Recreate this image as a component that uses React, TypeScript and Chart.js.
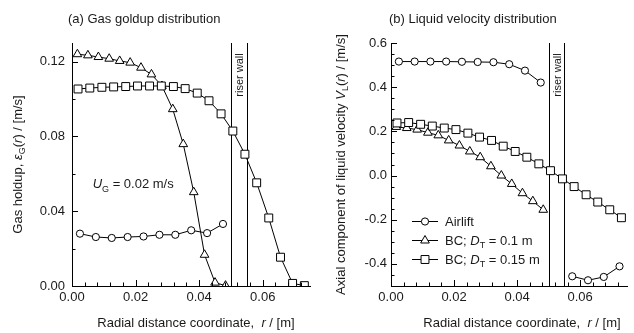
import React, { useEffect, useRef } from 'react';
import { Chart, registerables } from 'chart.js';
import { drawPoint } from 'chart.js/helpers';
Chart.register(...registerables);

const FONT = "'Liberation Sans', Arial, Helvetica, sans-serif";
const TXT = '#1a1a1a';

// ---------- (a) Gas holdup ----------
const holdupAirliftR = [0.0025, 0.0075, 0.0125, 0.0175, 0.0225, 0.0275, 0.0325, 0.0375, 0.0425, 0.0475];
const holdupAirlift = [0.028, 0.0262, 0.0257, 0.0262, 0.0265, 0.0274, 0.0274, 0.0298, 0.0283, 0.0332];
const holdupBC01R = [0.0017, 0.005, 0.0083, 0.0117, 0.015, 0.0183, 0.0217, 0.025, 0.0283, 0.0317, 0.035, 0.0383, 0.0417, 0.045, 0.0483];
const holdupBC01 = [0.124, 0.1234, 0.1225, 0.1216, 0.1204, 0.1195, 0.1168, 0.1132, 0.107, 0.0946, 0.0759, 0.0502, 0.0167, 0.0018, 0.0002];
const holdupBC015R = [0.0019, 0.0056, 0.0094, 0.0131, 0.0169, 0.0206, 0.0244, 0.0281, 0.0319, 0.0356, 0.0394, 0.0431, 0.0469, 0.0506, 0.0544, 0.0581, 0.0619, 0.0656, 0.0694, 0.0731];
const holdupBC015 = [0.1054, 0.1059, 0.1063, 0.1065, 0.1067, 0.107, 0.107, 0.107, 0.1067, 0.1056, 0.1032, 0.0991, 0.0921, 0.0829, 0.0705, 0.0552, 0.0364, 0.0154, 0.0014, 0.0002];

// ---------- (b) Liquid velocity ----------
const velAirliftRiserR = [0.0025, 0.0075, 0.0125, 0.0175, 0.0225, 0.0275, 0.0325, 0.0375, 0.0425, 0.0475];
const velAirliftRiser = [0.516, 0.516, 0.516, 0.516, 0.515, 0.514, 0.513, 0.504, 0.475, 0.421];
const velAirliftAnnulusR = [0.0575, 0.0625, 0.0675, 0.0725];
const velAirliftAnnulus = [-0.456, -0.474, -0.459, -0.411];
const velBC01R = [0.0017, 0.005, 0.0083, 0.0117, 0.015, 0.0183, 0.0217, 0.025, 0.0283, 0.0317, 0.035, 0.0383, 0.0417, 0.045, 0.0483];
const velBC01 = [0.22, 0.215, 0.208, 0.194, 0.182, 0.159, 0.136, 0.109, 0.083, 0.042, 0.0, -0.038, -0.08, -0.116, -0.155];
const velBC015R = [0.0019, 0.0056, 0.0094, 0.0131, 0.0169, 0.0206, 0.0244, 0.0281, 0.0319, 0.0356, 0.0394, 0.0431, 0.0469, 0.0506, 0.0544, 0.0581, 0.0619, 0.0656, 0.0694, 0.0731];
const velBC015 = [0.238, 0.24, 0.232, 0.224, 0.215, 0.208, 0.192, 0.174, 0.159, 0.133, 0.109, 0.083, 0.053, 0.022, -0.015, -0.05, -0.087, -0.12, -0.155, -0.191];

// ---------- axes ----------
const R_MIN = 0;
const R_MAX = 0.075;
const R_TICKS = [0, 0.02, 0.04, 0.06];
const H_MIN = 0;
const H_MAX = 0.13;
const H_TICKS = [0, 0.04, 0.08, 0.12];
const V_MIN = -0.5;
const V_MAX = 0.6;
const V_TICKS = [-0.4, -0.2, 0, 0.2, 0.4, 0.6];
const RISER_WALLS = [0.05, 0.055];

const LEGEND_LABELS = ['Airlift', 'BC; D_T = 0.1 m', 'BC; D_T = 0.15 m'];

type Seg = { t: string; it?: boolean; sub?: boolean };

function drawRich(ctx: CanvasRenderingContext2D, segs: Seg[], x: number, y: number, size: number, align: 'left' | 'center', rotate = false) {
  ctx.save();
  ctx.translate(x, y);
  if (rotate) ctx.rotate(-Math.PI / 2);
  const fontFor = (s: Seg) => `${s.it ? 'italic ' : ''}${s.sub ? Math.round(size * 0.72) : size}px ${FONT}`;
  let total = 0;
  for (const s of segs) {
    ctx.font = fontFor(s);
    total += ctx.measureText(s.t).width;
  }
  let cx = align === 'center' ? -total / 2 : 0;
  ctx.fillStyle = TXT;
  ctx.textBaseline = 'alphabetic';
  ctx.textAlign = 'left';
  const base = size * 0.36;
  for (const s of segs) {
    ctx.font = fontFor(s);
    ctx.fillText(s.t, cx, base + (s.sub ? size * 0.28 : 0));
    cx += ctx.measureText(s.t).width;
  }
  ctx.restore();
}

const isMult = (v: number, step: number) => Math.abs(v / step - Math.round(v / step)) < 1e-6;

type Marker = { style: 'circle' | 'triangle' | 'rect'; radius: number };
const CIRCLE: Marker = { style: 'circle', radius: 3.6 };
const TRI: Marker = { style: 'triangle', radius: 5 };
const SQUARE: Marker = { style: 'rect', radius: 5.6 };

function series(xs: (number | null)[], ys: (number | null)[], m: Marker, order: number) {
  return {
    data: xs.map((x, i) => ({ x, y: ys[i] })),
    borderColor: '#000',
    borderWidth: 1,
    pointStyle: m.style,
    pointRadius: m.radius,
    pointBackgroundColor: '#fff',
    pointBorderColor: '#000',
    pointBorderWidth: 1,
    spanGaps: false,
    tension: 0,
    order,
    fill: false,
  };
}

type PanelSpec = {
  yMin: number;
  yMax: number;
  yTicks: number[];
  yDigits: number;
  yMinorStep: number;
  yLabelPad: number;
  yWidth: number;
  padRight: number;
  datasets: any[];
  title: string;
  titleX: number;
  yTitle: Seg[];
  yTitleX: number;
  xTitleX: number;
  extra?: (ctx: CanvasRenderingContext2D, chart: any) => void;
};

function makeConfig(spec: PanelSpec) {
  const decor = {
    id: 'decor',
    beforeDatasetsDraw(chart: any) {
      const ctx = chart.ctx as CanvasRenderingContext2D;
      const { top, bottom } = chart.chartArea;
      const xs = chart.scales.x;
      ctx.save();
      ctx.strokeStyle = '#000';
      ctx.lineWidth = 1;
      ctx.beginPath();
      for (const w of RISER_WALLS) {
        const px = Math.round(xs.getPixelForValue(w)) + 0.5;
        ctx.moveTo(px, top);
        ctx.lineTo(px, bottom);
      }
      ctx.stroke();
      const p1 = xs.getPixelForValue(RISER_WALLS[0]);
      const p2 = xs.getPixelForValue(RISER_WALLS[1]);
      ctx.translate((p1 + p2) / 2 + 1, top + 32);
      ctx.rotate(-Math.PI / 2);
      ctx.font = `11px ${FONT}`;
      ctx.fillStyle = TXT;
      ctx.textAlign = 'center';
      ctx.textBaseline = 'middle';
      ctx.fillText('riser wall', 0, 0);
      ctx.restore();
    },
    afterDraw(chart: any) {
      const ctx = chart.ctx as CanvasRenderingContext2D;
      const { left, top, bottom } = chart.chartArea;
      const xs = chart.scales.x;
      const ys = chart.scales.y;
      ctx.save();
      ctx.strokeStyle = '#000';
      ctx.lineWidth = 1;
      ctx.beginPath();
      const xStep = 0.004;
      for (let i = 1; i * xStep <= R_MAX + 1e-9; i++) {
        const v = i * xStep;
        const px = Math.round(xs.getPixelForValue(v)) + 0.5;
        const len = isMult(v, 0.02) ? 6 : 3.5;
        ctx.moveTo(px, bottom);
        ctx.lineTo(px, bottom - len);
      }
      const s = spec.yMinorStep;
      for (let i = Math.ceil(spec.yMin / s - 1e-9); i * s <= spec.yMax + 1e-9; i++) {
        const v = i * s;
        if (Math.abs(v - spec.yMin) < 1e-9) continue;
        const py = Math.round(ys.getPixelForValue(v)) + 0.5;
        const major = spec.yTicks.some((t) => Math.abs(t - v) < 1e-9);
        ctx.moveTo(left, py);
        ctx.lineTo(left + (major ? 6 : 3.5), py);
      }
      ctx.stroke();
      ctx.restore();

      // panel title
      ctx.save();
      ctx.font = `13px ${FONT}`;
      ctx.fillStyle = TXT;
      ctx.textAlign = 'left';
      ctx.textBaseline = 'middle';
      ctx.fillText(spec.title, spec.titleX, 19);
      ctx.restore();

      drawRich(ctx, spec.yTitle, spec.yTitleX, (top + bottom) / 2, 13, 'center', true);
      drawRich(ctx, [{ t: 'Radial distance coordinate,  ' }, { t: 'r', it: true }, { t: ' / [m]' }], spec.xTitleX, 322, 13, 'center');

      if (spec.extra) spec.extra(ctx, chart);
    },
  };

  return {
    type: 'line' as const,
    data: { datasets: spec.datasets },
    plugins: [decor],
    options: {
      responsive: false,
      animation: false as const,
      devicePixelRatio: 1,
      layout: { padding: { left: 0, right: spec.padRight, top: 43, bottom: 0 } },
      plugins: { legend: { display: false }, tooltip: { enabled: false }, title: { display: false } },
      scales: {
        x: {
          type: 'linear' as const,
          min: R_MIN,
          max: R_MAX,
          afterBuildTicks: (sc: any) => {
            sc.ticks = R_TICKS.map((v) => ({ value: v }));
          },
          afterFit: (sc: any) => {
            sc.height = 47;
          },
          ticks: {
            autoSkip: false,
            maxRotation: 0,
            padding: 4,
            color: TXT,
            font: { family: FONT, size: 13 },
            callback: (v: any) => Number(v).toFixed(2),
          },
          grid: { display: false, drawTicks: false },
          border: { display: true, color: '#000', width: 1 },
        },
        y: {
          type: 'linear' as const,
          min: spec.yMin,
          max: spec.yMax,
          afterBuildTicks: (sc: any) => {
            sc.ticks = spec.yTicks.map((v) => ({ value: v }));
          },
          afterFit: (sc: any) => {
            sc.width = spec.yWidth;
          },
          ticks: {
            autoSkip: false,
            padding: spec.yLabelPad,
            color: TXT,
            font: { family: FONT, size: 13 },
            callback: (v: any) => {
              const n = Math.abs(Number(v)) < 1e-9 ? 0 : Number(v);
              return n.toFixed(spec.yDigits);
            },
          },
          grid: { display: false, drawTicks: false },
          border: { display: true, color: '#000', width: 1 },
        },
      },
    },
  };
}

const holdupSpec: PanelSpec = {
  yMin: H_MIN,
  yMax: H_MAX,
  yTicks: H_TICKS,
  yDigits: 2,
  yMinorStep: 0.02,
  yLabelPad: 7,
  yWidth: 72,
  padRight: 5,
  datasets: [
    series(holdupBC015R, holdupBC015, SQUARE, 0),
    series(holdupBC01R, holdupBC01, TRI, 1),
    series(holdupAirliftR, holdupAirlift, CIRCLE, 2),
  ],
  title: '(a) Gas goldup distribution',
  titleX: 68,
  yTitle: [{ t: 'Gas holdup, ' }, { t: 'ε', it: true }, { t: 'G', sub: true }, { t: '(' }, { t: 'r', it: true }, { t: ') / [m/s]' }],
  yTitleX: 17,
  xTitleX: 196,
  extra: (ctx, chart) => {
    const x = chart.scales.x.getPixelForValue(0.0065);
    const y = chart.scales.y.getPixelForValue(0.055);
    drawRich(ctx, [{ t: 'U', it: true }, { t: 'G', sub: true }, { t: ' = 0.02 m/s' }], x, y, 13, 'left');
  },
};

const velocitySpec: PanelSpec = {
  yMin: V_MIN,
  yMax: V_MAX,
  yTicks: V_TICKS,
  yDigits: 1,
  yMinorStep: 0.05,
  yLabelPad: 4,
  yWidth: 74,
  padRight: 0,
  datasets: [
    series(
      [...velAirliftRiserR, 0.0525, ...velAirliftAnnulusR],
      [...velAirliftRiser, null, ...velAirliftAnnulus],
      CIRCLE,
      2
    ),
    series(velBC01R, velBC01, TRI, 1),
    series(velBC015R, velBC015, SQUARE, 0),
  ],
  title: '(b) Liquid velocity distribution',
  titleX: 72,
  yTitle: [
    { t: 'Axial component of liquid velocity ' },
    { t: 'V', it: true },
    { t: 'L', sub: true },
    { t: '(' },
    { t: 'r', it: true },
    { t: ') / [m/s]' },
  ],
  yTitleX: 23,
  xTitleX: 205,
  extra: (ctx) => {
    const markers = [CIRCLE, TRI, SQUARE];
    const rows = [221, 240, 259];
    const labels: Seg[][] = [
      [{ t: LEGEND_LABELS[0] }],
      [{ t: 'BC; ' }, { t: 'D', it: true }, { t: 'T', sub: true }, { t: ' = 0.1 m' }],
      [{ t: 'BC; ' }, { t: 'D', it: true }, { t: 'T', sub: true }, { t: ' = 0.15 m' }],
    ];
    rows.forEach((y, i) => {
      ctx.save();
      ctx.strokeStyle = '#000';
      ctx.lineWidth = 1;
      ctx.beginPath();
      ctx.moveTo(95, y + 0.5);
      ctx.lineTo(121, y + 0.5);
      ctx.stroke();
      ctx.fillStyle = '#fff';
      ctx.strokeStyle = '#000';
      drawPoint(ctx, { pointStyle: markers[i].style, radius: markers[i].radius, borderWidth: 1, rotation: 0 } as any, 108, y + 0.5);
      ctx.restore();
      drawRich(ctx, labels[i], 128, y, 13, 'left');
    });
  },
};

function Panel({ spec, width, height }: { spec: PanelSpec; width: number; height: number }) {
  const ref = useRef<HTMLCanvasElement>(null);
  useEffect(() => {
    const chart = new Chart(ref.current as HTMLCanvasElement, makeConfig(spec) as any);
    return () => chart.destroy();
  }, [spec]);
  return <canvas ref={ref} width={width} height={height} style={{ display: 'block', width, height }} />;
}

export default function App() {
  return (
    <div style={{ position: 'absolute', left: 0, top: 0, width: 634, height: 333, display: 'flex', background: '#fff', overflow: 'hidden' }}>
      <Panel spec={holdupSpec} width={317} height={333} />
      <Panel spec={velocitySpec} width={317} height={333} />
    </div>
  );
}
